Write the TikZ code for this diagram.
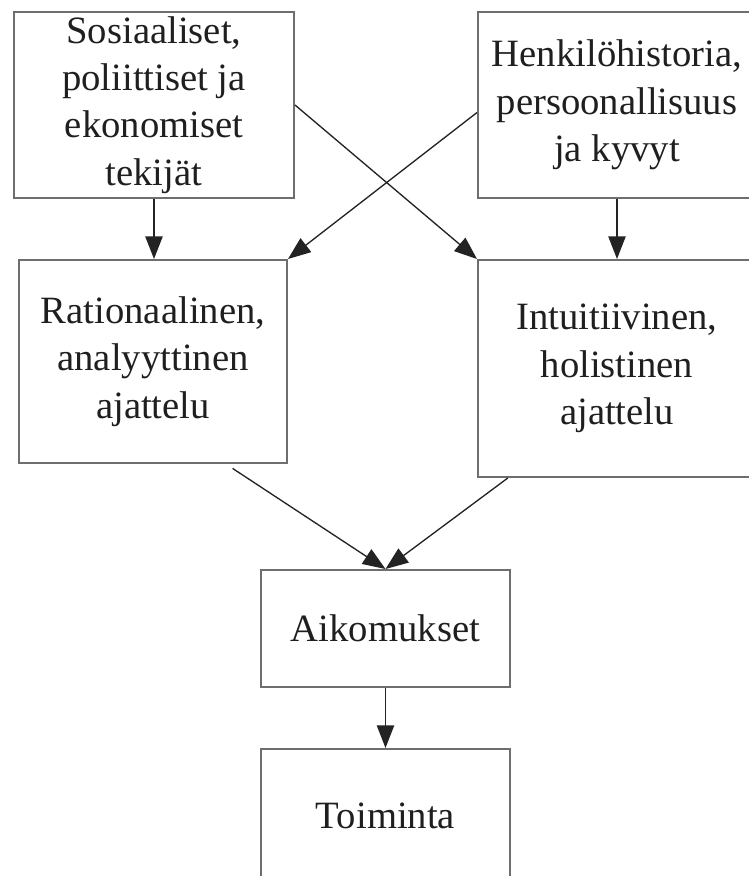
\documentclass[tikz,border=0pt]{standalone}
\usepackage{fontspec}
\setmainfont{Liberation Serif}
\usepackage{tikz}
\usetikzlibrary{arrows.meta, calc}
\definecolor{boxgray}{RGB}{110,110,110}
\definecolor{linegray}{RGB}{35,35,35}

\begin{document}
\begin{tikzpicture}[x=0.75pt, y=-0.75pt, font=\fontsize{29}{35.5}\selectfont,
  box/.style={draw=boxgray, line width=1.5pt, align=center, inner sep=0pt, text=black!88},
  pil/.style={draw=linegray, line width=1pt, -{Triangle[length=17pt, width=13pt]}}]
\useasboundingbox (0,0) rectangle (749,876);
\clip (0,0) rectangle (749,876);
% ylarivi
\node[box, minimum width=210pt, minimum height=139.5pt] (s1) at (154,105)
  {Sosiaaliset,\\ poliittiset ja\\ ekonomiset\\ tekijät};
\node[box, minimum width=208.5pt, minimum height=139.5pt] (h1) at (617,105)
  {Henkilöhistoria,\\ persoonallisuus\\ ja kyvyt};
% ajattelu
\node[box, minimum width=201pt, minimum height=152.25pt] (r1) at (153,361.5)
  {Rationaalinen,\\ analyyttinen\\ ajattelu};
\node[box, minimum width=208.5pt, minimum height=162.75pt] (i1) at (617,368.5)
  {Intuitiivinen,\\ holistinen\\ ajattelu};
% alarivi
\node[box, minimum width=186.75pt, minimum height=87.75pt] (a1) at (385.5,628.5) {Aikomukset};
\node[box, minimum width=186.75pt, minimum height=100.5pt] (t1) at (385.5,816) {Toiminta};

\draw[pil] (s1.south) -- (s1.south |- r1.north);
\draw[pil] (h1.south) -- (h1.south |- i1.north);
\draw[pil] (s1.east) -- (i1.north west);
\draw[pil] ($(h1.north west)!0.54!(h1.south west)$) -- (r1.north east);
\draw[pil, shorten <=6pt] ($(r1.south west)!0.77!(r1.south east)$) -- (a1.north);
\draw[pil] ($(i1.south west)!0.11!(i1.south east)$) -- (a1.north);
\draw[pil] (a1.south) -- (t1.north);
\end{tikzpicture}
\end{document}
